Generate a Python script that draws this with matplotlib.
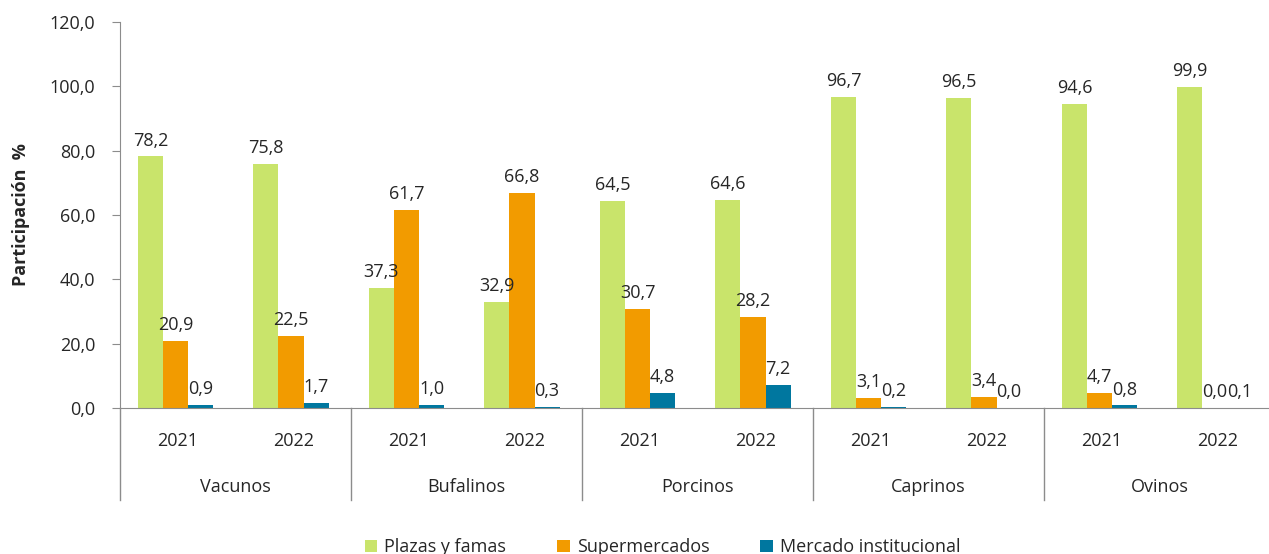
import numpy as np
import matplotlib.pyplot as plt
from matplotlib.transforms import blended_transform_factory

plt.rcParams['font.family'] = ['Open Sans', 'DejaVu Sans']

species = ['Vacunos', 'Bufalinos', 'Porcinos', 'Caprinos', 'Ovinos']
years = ['2021', '2022']

plazas = [78.2, 75.8, 37.3, 32.9, 64.5, 64.6, 96.7, 96.5, 94.6, 99.9]
super_ = [20.9, 22.5, 61.7, 66.8, 30.7, 28.2, 3.1, 3.4, 4.7, 0.0]
instit = [0.9, 1.7, 1.0, 0.3, 4.8, 7.2, 0.2, 0.0, 0.8, 0.1]

series = [('Plazas y famas', plazas, '#C9E46B'),
          ('Supermercados', super_, '#F29B00'),
          ('Mercado institucional', instit, '#00779F')]

txt = '#262626'
fs = 13
fig = plt.figure(figsize=(12.69, 5.54), dpi=100)
ax = fig.add_axes([0.0946, 0.2635, 0.9102, 0.6968])

x = np.arange(len(plazas))
w = 0.217
for i, (name, vals, col) in enumerate(series):
    bars = ax.bar(x + (i - 1) * w - 0.02, vals, w, color=col, label=name)
    ax.bar_label(bars, labels=[f'{v:.1f}'.replace('.', ',') for v in vals],
                 padding=5, fontsize=fs, color=txt)

ax.set_ylim(0, 120)
ax.set_xlim(-0.5, 9.5)
ax.set_yticks(np.arange(0, 121, 20))
ax.set_yticklabels([f'{v:.1f}'.replace('.', ',') for v in np.arange(0, 121, 20)])
ax.set_xticks(x)
ax.set_xticklabels(years * len(species))
ax.tick_params(axis='x', length=0, pad=17, labelsize=fs, labelcolor=txt)
ax.tick_params(axis='y', length=6, color='#8c8c8c', labelsize=fs, labelcolor=txt, pad=12)

for s in ['top', 'right']:
    ax.spines[s].set_visible(False)
for s in ['left', 'bottom']:
    ax.spines[s].set_color('#8c8c8c')

trans = blended_transform_factory(ax.transData, ax.transAxes)
for k in range(len(species) + 1):
    xb = 2 * k - 0.5
    ax.plot([xb, xb], [0, -0.238], transform=trans, color='#8c8c8c',
            lw=1, clip_on=False)
for k, name in enumerate(species):
    ax.text(2 * k + 0.5, -0.205, name, transform=trans, ha='center',
            va='center', fontsize=fs, color=txt)

ax.set_ylabel('Participación  %', fontsize=fs, fontweight='bold', color=txt)
ax.yaxis.set_label_coords(-0.078, 0.5)

fig.legend(loc='center', bbox_to_anchor=(0.522, 0.012), ncol=3, frameon=False,
           fontsize=fs, handlelength=0.7, handleheight=0.7, handletextpad=0.4,
           columnspacing=2.8, labelcolor=txt)

fig.savefig('out.png', dpi=100)
